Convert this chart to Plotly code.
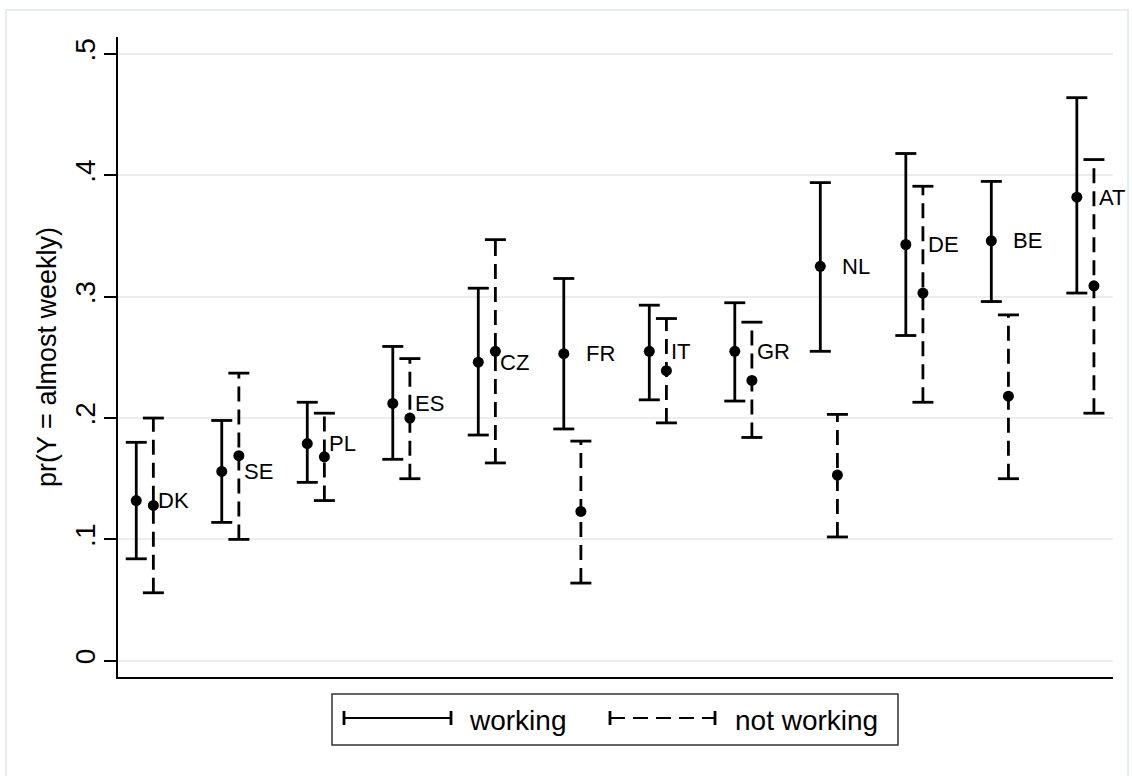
import plotly.graph_objects as go

# Predicted probability of "almost weekly" by country, with confidence intervals
countries = ["DK", "SE", "PL", "ES", "CZ", "FR", "IT", "GR", "NL", "DE", "BE", "AT"]

work_est = [0.132, 0.156, 0.179, 0.212, 0.246, 0.253, 0.255, 0.255, 0.325, 0.343, 0.346, 0.382]
work_lo = [0.084, 0.114, 0.147, 0.166, 0.186, 0.191, 0.215, 0.214, 0.255, 0.268, 0.296, 0.303]
work_hi = [0.180, 0.198, 0.213, 0.259, 0.307, 0.315, 0.293, 0.295, 0.394, 0.418, 0.395, 0.464]

notwork_est = [0.128, 0.169, 0.168, 0.200, 0.255, 0.123, 0.239, 0.231, 0.153, 0.303, 0.218, 0.309]
notwork_lo = [0.056, 0.100, 0.132, 0.150, 0.163, 0.064, 0.196, 0.184, 0.102, 0.213, 0.150, 0.204]
notwork_hi = [0.200, 0.237, 0.204, 0.249, 0.347, 0.181, 0.282, 0.279, 0.203, 0.391, 0.285, 0.413]

y_ticks = [0, 0.1, 0.2, 0.3, 0.4, 0.5]
y_tick_labels = ["0", ".1", ".2", ".3", ".4", ".5"]

series_names = ["working", "not working"]

FONT = "Liberation Sans, Arial, sans-serif"
W, H = 1132, 776
ML, MR, MT, MB = 118, 19, 37, 99
OFFSET = 0.1
BAR_W = 2.8
CAP = 15
DASH = "15px,8px"
GRID = "#e8eef1"

pos = list(range(1, len(countries) + 1))
x_work = [p - OFFSET for p in pos]
x_notwork = [p + OFFSET for p in pos]


def segments(xs, lo, hi):
    sx, sy = [], []
    for x, a, b in zip(xs, lo, hi):
        sx += [x, x, None]
        sy += [a, b, None]
    return sx, sy


fig = go.Figure()

for xs, est, lo, hi, dash in [
    (x_work, work_est, work_lo, work_hi, "solid"),
    (x_notwork, notwork_est, notwork_lo, notwork_hi, DASH),
]:
    sx, sy = segments(xs, lo, hi)
    # vertical interval lines
    fig.add_trace(go.Scatter(
        x=sx, y=sy, mode="lines",
        line=dict(color="black", width=BAR_W, dash=dash),
        showlegend=False, hoverinfo="skip"))
    # interval caps
    fig.add_trace(go.Scatter(
        x=xs + xs, y=lo + hi, mode="markers",
        marker=dict(symbol="line-ew", size=CAP, color="black",
                    line=dict(color="black", width=BAR_W)),
        showlegend=False, hoverinfo="skip"))
    # point estimates
    fig.add_trace(go.Scatter(
        x=xs, y=est, mode="markers",
        marker=dict(symbol="circle", size=11, color="black"),
        showlegend=False))

# country labels, to the right of each pair at the level of the "working" estimate
annotations = []
for xn, yv, name in zip(x_notwork, work_est, countries):
    annotations.append(dict(
        x=xn, y=yv, xref="x", yref="y", text=name, showarrow=False,
        xanchor="left", yanchor="middle", xshift=3,
        font=dict(family=FONT, size=22, color="black")))


# helpers converting page pixels to paper coordinates (for frame and legend)
def px(x):
    return (x - ML) / (W - ML - MR)


def py(y):
    return (H - MB - y) / (H - MT - MB)


shapes = []
# outer graph frame
shapes.append(dict(type="rect", xref="paper", yref="paper",
                   x0=px(6), x1=px(1128), y0=py(800), y1=py(10),
                   line=dict(color="#e6edf0", width=2), layer="below"))

# legend box, centred under the plot region
LX0, LX1, LY0, LY1 = 332, 898, 694, 745
shapes.append(dict(type="rect", xref="paper", yref="paper",
                   x0=px(LX0), x1=px(LX1), y0=py(LY1), y1=py(LY0),
                   line=dict(color="#333333", width=1.5)))
LY = 718
legend_items = [
    (series_names[0], 344, 451, "solid", 467),
    (series_names[1], 610, 715, "15px,8px", 733),
]
for name, a, b, dash, tx in legend_items:
    shapes.append(dict(type="line", xref="paper", yref="paper",
                       x0=px(a), x1=px(b), y0=py(LY), y1=py(LY),
                       line=dict(color="black", width=2.2, dash=dash)))
    for cx in (a, b):
        shapes.append(dict(type="line", xref="paper", yref="paper",
                           x0=px(cx), x1=px(cx), y0=py(LY - 7), y1=py(LY + 7),
                           line=dict(color="black", width=2.8)))
    annotations.append(dict(
        x=px(tx), y=py(LY + 2), xref="paper", yref="paper", text=name,
        showarrow=False, xanchor="left", yanchor="middle",
        font=dict(family=FONT, size=28, color="black")))

fig.update_layout(
    width=W, height=H,
    margin=dict(l=ML, r=MR, t=MT, b=MB),
    paper_bgcolor="white", plot_bgcolor="white",
    showlegend=False,
    font=dict(family=FONT, color="black"),
    shapes=shapes, annotations=annotations,
    xaxis=dict(range=[0.6865, 12.323], showgrid=False, zeroline=False,
               showticklabels=False, ticks="", showline=True,
               linecolor="black", linewidth=1.5),
    yaxis=dict(range=[-0.0134, 0.514], tickvals=y_ticks, ticktext=y_tick_labels,
               tickangle=-90, tickfont=dict(family=FONT, size=28),
               ticks="outside", ticklen=12, tickwidth=1.5, tickcolor="black",
               ticklabelstandoff=-2,
               showline=True, linecolor="black", linewidth=1.5,
               showgrid=True, gridcolor=GRID, gridwidth=1.5, zeroline=False,
               title=dict(text="pr(Y = almost weekly)",
                          font=dict(family=FONT, size=27), standoff=6)),
)

fig.write_html("out.html")
